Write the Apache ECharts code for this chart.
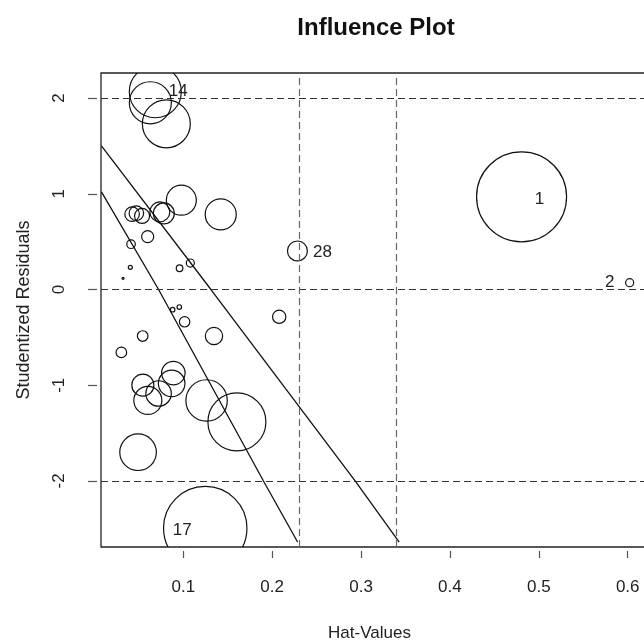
<!DOCTYPE html>
<html>
<head>
<meta charset="utf-8">
<script src="https://cdn.jsdelivr.net/npm/echarts@6/dist/echarts.min.js"></script>
<style>
html,body{margin:0;padding:0;background:#fff;}
#chart{width:644px;height:641px;}
</style>
</head>
<body>
<div id="chart"></div>
<script>
// Observation data (id = index + 1)
const hatValues = [0.4806, 0.6022, 0.0978, 0.1421, 0.0424, 0.0472, 0.0536, 0.0736, 0.0781, 0.0599,
                   0.0412, 0.0404, 0.0322, 0.0685, 0.0629, 0.0809, 0.1247, 0.0958, 0.1079, 0.0880,
                   0.0955, 0.1015, 0.2079, 0.1345, 0.0543, 0.0303, 0.0545, 0.2284, 0.0601, 0.0722,
                   0.0869, 0.0888, 0.1262, 0.1603, 0.0491];
const studentizedResiduals = [0.968, 0.071, 0.933, 0.785, 0.787, 0.797, 0.769, 0.811, 0.795, 0.552,
                   0.473, 0.232, 0.117, 2.066, 1.951, 1.731, -2.492, 0.222, 0.277, -0.211,
                   -0.183, -0.337, -0.285, -0.486, -0.486, -0.657, -0.999, 0.403, -1.159, -1.086,
                   -0.981, -0.873, -1.159, -1.383, -1.700];
const cooksD = [1.0, 0.008, 0.111, 0.119, 0.026, 0.026, 0.028, 0.049, 0.054, 0.018,
                0.009, 0.002, 0.0005, 0.334, 0.218, 0.284, 0.859, 0.0054, 0.008, 0.0026,
                0.0026, 0.0134, 0.022, 0.037, 0.0139, 0.0139, 0.060, 0.049, 0.097, 0.080,
                0.087, 0.068, 0.212, 0.415, 0.165];
const labeledObs = [1, 2, 14, 17, 28];

// reference lines
const hatCutoffs = [0.2286, 0.3429];
const residualCutoffs = [-2, 0, 2];
const lineAHat = [0.0079, 0.1311, 0.2933, 0.3429];
const lineARes = [1.501, 0, -2.0, -2.638];
const lineBHat = [0.0079, 0.0722, 0.1902, 0.2286];
const lineBRes = [1.02, 0, -2.0, -2.638];

// ticks
const xTicks = [0.1, 0.2, 0.3, 0.4, 0.5, 0.6];
const yTicks = [-2, -1, 0, 1, 2];

const FONT = '"Liberation Sans", Arial, sans-serif';
const labelOffsets = {1: [18, 2], 2: [-20, 0], 14: [23, 0], 17: [-23, 2], 28: [25, 1]};
const MAX_RADIUS = 45;

const pointData = hatValues.map((h, i) => [h, studentizedResiduals[i], cooksD[i], i + 1]);

function renderBubble(params, api) {
  const c = api.coord([api.value(0), api.value(1)]);
  const r = MAX_RADIUS * Math.sqrt(api.value(2));
  const id = api.value(3);
  const children = [{
    type: 'circle',
    shape: {cx: c[0], cy: c[1], r: r},
    style: {fill: 'none', stroke: '#111', lineWidth: 1.2}
  }];
  if (labeledObs.includes(id)) {
    const off = labelOffsets[id];
    children.push({
      type: 'text',
      x: c[0] + off[0], y: c[1] + off[1],
      style: {text: String(id), fill: '#222', fontSize: 17, fontFamily: FONT,
              align: 'center', verticalAlign: 'middle',
              textAlign: 'center', textVerticalAlign: 'middle'}
    });
  }
  return {type: 'group', children: children};
}

const chart = echarts.init(document.getElementById('chart'), null, {renderer: 'canvas'});
chart.setOption({
  animation: false,
  backgroundColor: '#fff',
  title: {
    text: 'Influence Plot', left: 371, top: 11, textAlign: 'center',
    textStyle: {fontFamily: FONT, fontWeight: 'bold', fontSize: 24, color: '#111'}
  },
  grid: {
    left: 101, top: 73, width: 549, height: 474,
    outerBoundsMode: 'none', containLabel: false,
    show: true, borderColor: '#222', borderWidth: 1.3, backgroundColor: 'transparent'
  },
  xAxis: {
    type: 'value', min: 0.0074, max: 0.6251, offset: 4,
    name: 'Hat-Values', nameLocation: 'middle', nameGap: 74,
    nameTextStyle: {fontFamily: FONT, fontSize: 17, color: '#222', padding: [0, 12, 0, 0]},
    axisLine: {show: false, onZero: false},
    axisTick: {show: true, length: 7, customValues: xTicks, lineStyle: {color: '#555', width: 1.2}},
    axisLabel: {customValues: xTicks, margin: 28, fontFamily: FONT, fontSize: 17, color: '#222',
                formatter: v => String(v)},
    splitLine: {show: false}
  },
  yAxis: {
    type: 'value', min: -2.69, max: 2.262, offset: 4,
    name: 'Studentized Residuals', nameLocation: 'middle', nameGap: 64, nameRotate: 90,
    nameTextStyle: {fontFamily: FONT, fontSize: 18, color: '#222'},
    axisLine: {show: false, onZero: false},
    axisTick: {show: true, length: 9, customValues: yTicks, lineStyle: {color: '#555', width: 1.2}},
    axisLabel: {customValues: yTicks, margin: 29, rotate: 90, fontFamily: FONT, fontSize: 17, color: '#222',
                formatter: v => String(v)},
    splitLine: {show: false}
  },
  series: [
    {
      type: 'line', name: 'cutoffA', data: lineAHat.map((h, i) => [h, lineARes[i]]),
      symbol: 'none', lineStyle: {color: '#111', width: 1.3}, silent: true, z: 3,
      markLine: {
        silent: true, symbol: ['none', 'none'], label: {show: false},
        data: residualCutoffs.map(v => ({yAxis: v, lineStyle: {color: '#333', type: [7, 4], width: 1.2}}))
          .concat(hatCutoffs.map(v => ({xAxis: v, lineStyle: {color: '#666', type: [7, 4], width: 1.2}})))
      }
    },
    {
      type: 'line', name: 'cutoffB', data: lineBHat.map((h, i) => [h, lineBRes[i]]),
      symbol: 'none', lineStyle: {color: '#111', width: 1.3}, silent: true, z: 3
    },
    {
      type: 'custom', name: 'obs', data: pointData, clip: true, z: 4, silent: true,
      encode: {x: 0, y: 1},
      renderItem: renderBubble
    }
  ]
});
</script>
</body>
</html>
